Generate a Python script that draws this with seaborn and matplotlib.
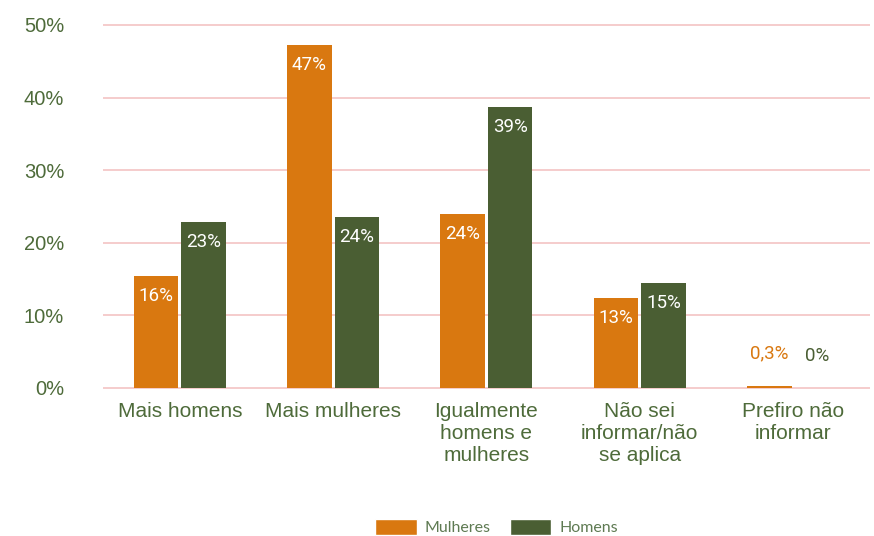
import matplotlib
matplotlib.use("Agg")
import matplotlib.pyplot as plt
import seaborn as sns
import pandas as pd
from matplotlib.patches import Patch

categories = ["Mais homens", "Mais mulheres", "Igualmente\nhomens e\nmulheres",
              "Não sei\ninformar/não\nse aplica", "Prefiro não\ninformar"]
mulheres = [15.4, 47.2, 24.0, 12.4, 0.3]
homens = [22.9, 23.6, 38.7, 14.5, 0.0]
mulheres_labels = ["16%", "47%", "24%", "13%", "0,3%"]
homens_labels = ["23%", "24%", "39%", "15%", "0%"]
series = ["Mulheres", "Homens"]
yticks = [0, 10, 20, 30, 40, 50]

orange = "#D97810"
green = "#4A5E33"
text_green = "#4E6B3A"
grid_pink = "#F3C4C4"

df = pd.DataFrame({
    "cat": categories * 2,
    "val": mulheres + homens,
    "serie": [series[0]] * 5 + [series[1]] * 5,
})

sns.set_theme(style="white")
plt.rcParams['font.family'] = ['Liberation Sans', 'DejaVu Sans']

fig = plt.figure(figsize=(8.74, 5.36), dpi=100)
ax = fig.add_axes([0.118, 0.2728, 0.877, 0.684])

sns.barplot(data=df, x="cat", y="val", hue="serie", palette=[orange, green],
            width=0.62, gap=0.06, ax=ax, legend=False, saturation=1, linewidth=0)

ax.set_ylim(-0.25, 50.25)
ax.set_xlim(-0.5, 4.5)
ax.set_yticks(yticks)
ax.set_yticklabels([f"{t}%" for t in yticks])
ax.grid(axis="y", color=grid_pink, linewidth=1.2)
ax.set_axisbelow(True)
for s in ax.spines.values():
    s.set_visible(False)
ax.set_xlabel("")
ax.set_ylabel("")
ax.tick_params(axis="y", colors=text_green, labelsize=14.5, length=0, pad=28)
ax.tick_params(axis="x", colors=text_green, labelsize=15, length=0, pad=9)
for lbl in ax.get_xticklabels():
    lbl.set_linespacing(1.2)

bars_m = ax.containers[0]
bars_h = ax.containers[1]
for bars, labels, col in [(bars_m, mulheres_labels, orange), (bars_h, homens_labels, green)]:
    for b, lab in zip(bars, labels):
        x = b.get_x() + b.get_width() / 2
        h = b.get_height()
        if h > 5:
            ax.text(x, h - 1.5, lab, ha="center", va="top", color="white",
                    fontsize=13.5, family=["Roboto", "DejaVu Sans"])
        else:
            ax.text(x, h + 3.2, lab, ha="center", va="bottom", color=col,
                    fontsize=13.5, family=["Roboto", "DejaVu Sans"])

handles = [Patch(facecolor=orange), Patch(facecolor=green)]
leg = fig.legend(handles, series, loc="center", bbox_to_anchor=(0.568, 0.017),
                 ncol=2, frameon=False, handlelength=2.6, handleheight=1.2,
                 columnspacing=1.2, handletextpad=0.5,
                 prop={"family": ["Lato", "DejaVu Sans"], "size": 11.5})
for t in leg.get_texts():
    t.set_color("#5E7A52")

fig.savefig("out.png", dpi=100, facecolor="white")
